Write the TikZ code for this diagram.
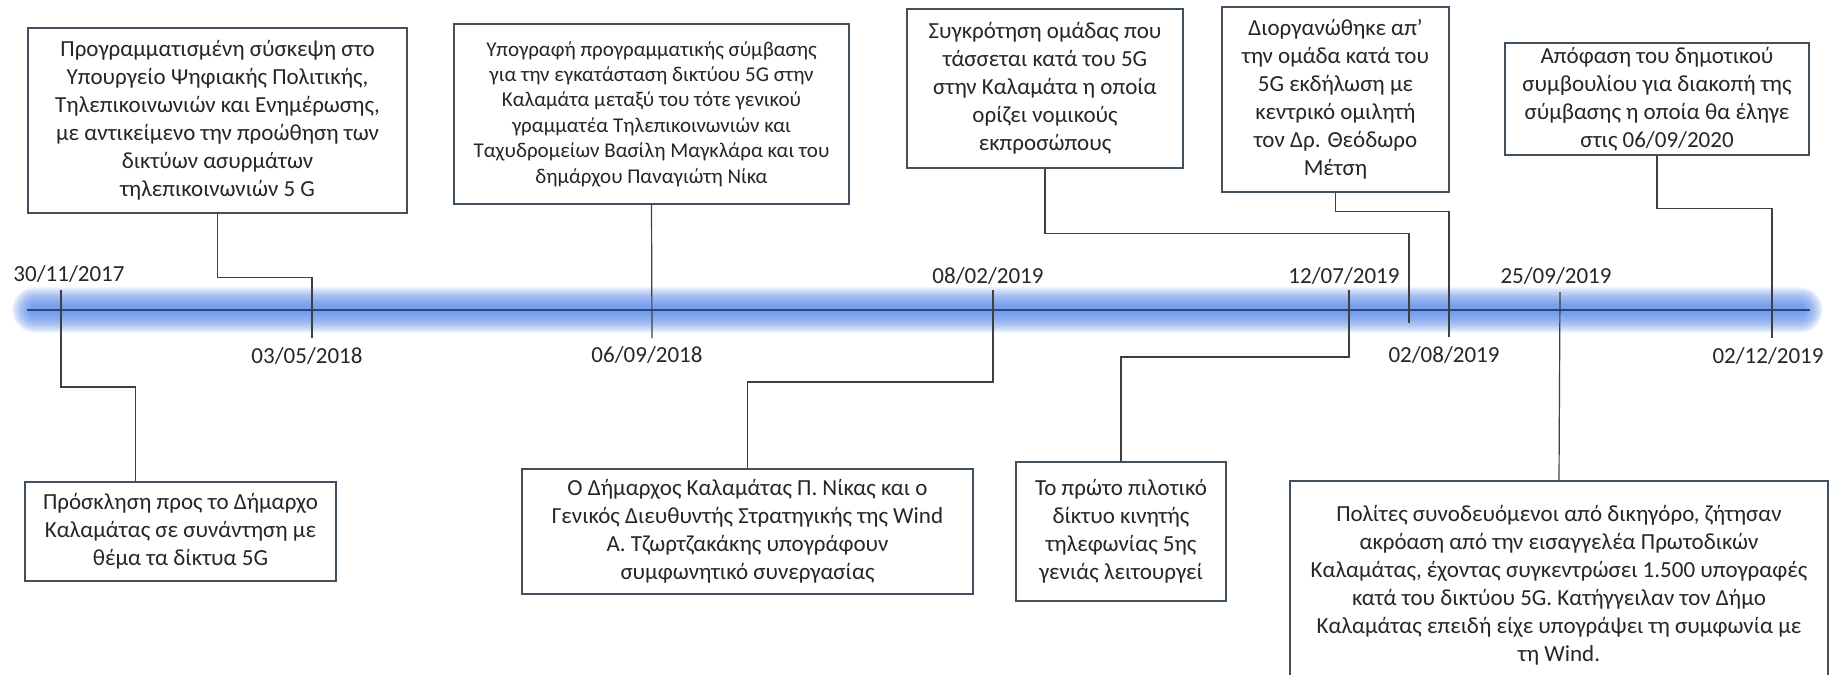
\documentclass[tikz,border=0pt]{standalone}
\usepackage{fontspec}
\setmainfont{Carlito}
\usetikzlibrary{calc}

\definecolor{boxline}{RGB}{65,80,95}
\definecolor{connline}{RGB}{64,64,64}
\definecolor{axisline}{RGB}{40,70,130}
\definecolor{glow}{RGB}{80,130,230}
\newcommand{\evfont}{\fontsize{11.5}{14}\selectfont}
\newcommand{\evsmall}{\fontsize{10.5}{12.7}\selectfont}

\tikzset{
  evbox/.style={draw=boxline, line width=0.6pt, fill=white, align=center, inner sep=0pt, text=black!85, font=\evfont},
  datelabel/.style={inner sep=0pt, text=black!85, font=\evfont},
  conn/.style={draw=connline, line width=0.6pt},
}

\begin{document}
\begin{tikzpicture}[x=0.5pt,y=-0.5pt]
\useasboundingbox (0,0) rectangle (1838,675);

% timeline band
\foreach \i in {1,...,20}
  \draw[glow, line width=24pt-\i pt, line cap=round, opacity=0.07] (35,310) -- (1800,310);
\draw[axisline, line width=0.6pt] (27,310) -- (1810,310);

% boxes above the line
\node[evbox, minimum width=189.5pt, minimum height=92.5pt] (prog) at (217.5,120.5)
  {Προγραμματισμένη σύσκεψη στο\\ Υπουργείο Ψηφιακής Πολιτικής,\\ Τηλεπικοινωνιών και Ενημέρωσης,\\ με αντικείμενο την προώθηση των\\ δικτύων ασυρμάτων\\ τηλεπικοινωνιών 5 G};
\node[evbox, font=\evsmall, minimum width=197.5pt, minimum height=90pt] (ypog) at (651.5,114)
  {Υπογραφή προγραμματικής σύμβασης\\ για την εγκατάσταση δικτύου 5G στην\\ Καλαμάτα μεταξύ του τότε γενικού\\ γραμματέα Τηλεπικοινωνιών και\\ Ταχυδρομείων Βασίλη Μαγκλάρα και του\\ δημάρχου Παναγιώτη Νίκα};
\node[evbox, minimum width=138pt, minimum height=79.5pt] (sygkr) at (1045,88.5)
  {Συγκρότηση ομάδας που\\ τάσσεται κατά του 5G\\ στην Καλαμάτα η οποία\\ ορίζει νομικούς\\ εκπροσώπους};
\node[evbox, minimum width=113.5pt, minimum height=92.5pt] (diorg) at (1335.5,99.5)
  {Διοργανώθηκε απ’\\ την ομάδα κατά του\\ 5G εκδήλωση με\\ κεντρικό ομιλητή\\ τον Δρ. Θεόδωρο\\ Μέτση};
\node[evbox, minimum width=152pt, minimum height=56pt] (apof) at (1657,99)
  {Απόφαση του δημοτικού\\ συμβουλίου για διακοπή της\\ σύμβασης η οποία θα έληγε\\ στις 06/09/2020};

% boxes below the line
\node[evbox, minimum width=155.5pt, minimum height=49.5pt] (prosk) at (180.5,531.5)
  {Πρόσκληση προς το Δήμαρχο\\ Καλαμάτας σε συνάντηση με\\ θέμα τα δίκτυα 5G};
\node[evbox, minimum width=225.5pt, minimum height=62.5pt] (dimarchos) at (747.5,531.5)
  {Ο Δήμαρχος Καλαμάτας Π. Νίκας και ο\\ Γενικός Διευθυντής Στρατηγικής της Wind\\ Α. Τζωρτζακάκης υπογράφουν\\ συμφωνητικό συνεργασίας};
\node[evbox, minimum width=105pt, minimum height=69.5pt] (proto) at (1121,531.5)
  {Το πρώτο πιλοτικό\\ δίκτυο κινητής\\ τηλεφωνίας 5ης\\ γενιάς λειτουργεί};
\node[evbox, minimum width=269pt, minimum height=104.5pt] (polites) at (1559,585.5)
  {Πολίτες συνοδευόμενοι από δικηγόρο, ζήτησαν\\ ακρόαση από την εισαγγελέα Πρωτοδικών\\ Καλαμάτας, έχοντας συγκεντρώσει 1.500 υπογραφές\\ κατά του δικτύου 5G. Κατήγγειλαν τον Δήμο\\ Καλαμάτας επειδή είχε υπογράψει τη συμφωνία με\\ τη Wind.};

% tick ends on the line
\coordinate (k1) at (61,290);
\coordinate (k2) at (312,338);
\coordinate (k3) at (652,338);
\coordinate (k4) at (993,290);
\coordinate (k5) at (1409,323);
\coordinate (k6) at (1349,290);
\coordinate (k7) at (1449,337);
\coordinate (k8) at (1560,292);
\coordinate (k9) at (1772,338);

% dates
\node[datelabel] (d1) at (69,274) {30/11/2017};
\node[datelabel] (d2) at (307,356) {03/05/2018};
\node[datelabel] (d3) at (647,355) {06/09/2018};
\node[datelabel] (d4) at (988,276) {08/02/2019};
\node[datelabel] (d5) at (1344,276) {12/07/2019};
\node[datelabel] (d6) at (1444,355) {02/08/2019};
\node[datelabel] (d7) at (1556,276) {25/09/2019};
\node[datelabel] (d8) at (1768,356) {02/12/2019};

% connectors
\draw[conn] (k1) -- ++(0,97) -| ($(prosk.north)+(-45,0)$);
\draw[conn] (prog.south) -- ++(0,64) -| (k2);
\draw[conn] (ypog.south) -- (k3);
\draw[conn] (k4) -- ++(0,92) -| (dimarchos.north);
\draw[conn] (sygkr.south) -- ++(0,65) -| (k5);
\draw[conn] (k6) -- ++(0,67) -| (proto.north);
\draw[conn] (diorg.south) -- ++(0,19) -| (k7);
\draw[conn] (k8) -- (polites.north);
\draw[conn] (apof.south) -- ++(0,53) -| (k9);

\end{tikzpicture}
\end{document}
